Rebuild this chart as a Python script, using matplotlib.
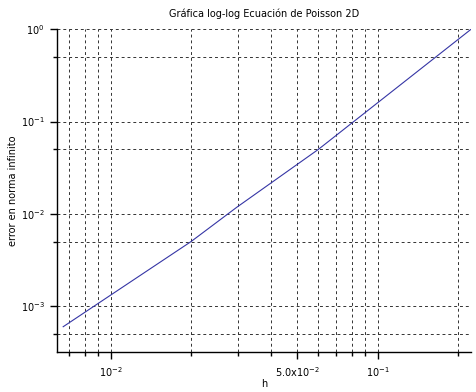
import matplotlib
matplotlib.use("Agg")
import matplotlib.pyplot as plt
from matplotlib.ticker import FixedLocator, FixedFormatter, NullFormatter

# mesh size vs. max-norm error
h = [0.00664, 0.02, 0.0297, 0.06, 0.1, 0.2236]
err = [5.97e-4, 5.0e-3, 1.18e-2, 5.0e-2, 0.16, 1.0]

xmajor = [1e-2, 5e-2, 1e-1]
xmajor_labels = [r"$10^{-2}$", r"5.0x$10^{-2}$", r"$10^{-1}$"]
xminor = [7e-3, 8e-3, 9e-3, 2e-2, 3e-2, 4e-2, 6e-2, 7e-2, 8e-2, 9e-2, 2e-1]
ymajor = [1e-3, 1e-2, 1e-1, 1e0]
ymajor_labels = [r"$10^{-3}$", r"$10^{-2}$", r"$10^{-1}$", r"$10^{0}$"]
yminor = [5e-4, 5e-3, 5e-2, 5e-1]

fig = plt.figure(figsize=(4.77, 3.92), dpi=100)
ax = fig.add_axes([57 / 477, 1 - 351.7 / 392, (471 - 57) / 477, (351.7 - 29.3) / 392])

ax.plot(h, err, color="#3535a5", linewidth=0.8)
ax.set_xscale("log")
ax.set_yscale("log")
ax.set_xlim(6.295e-3, 0.2236)
ax.set_ylim(3.2e-4, 1.0)

ax.xaxis.set_major_locator(FixedLocator(xmajor))
ax.xaxis.set_major_formatter(FixedFormatter(xmajor_labels))
ax.xaxis.set_minor_locator(FixedLocator(xminor))
ax.xaxis.set_minor_formatter(NullFormatter())
ax.yaxis.set_major_locator(FixedLocator(ymajor))
ax.yaxis.set_major_formatter(FixedFormatter(ymajor_labels))
ax.yaxis.set_minor_locator(FixedLocator(yminor))
ax.yaxis.set_minor_formatter(NullFormatter())

ax.grid(True, which="both", color="#333333", linestyle=(0, (3, 3)), linewidth=0.7)
ax.set_axisbelow(True)

for s in ("top", "right"):
    ax.spines[s].set_visible(False)
for s in ("left", "bottom"):
    ax.spines[s].set_linewidth(1.0)

ax.tick_params(which="major", direction="out", length=5, width=1, labelsize=7, pad=4)
ax.tick_params(which="minor", direction="out", length=3, width=1)
ax.tick_params(axis="x", which="major", pad=5)

ax.set_title("Gráfica log-log Ecuación de Poisson 2D", fontsize=7, pad=9)
ax.set_xlabel("h", fontsize=7)
ax.set_ylabel("error en norma infinito", fontsize=7)
ax.xaxis.set_label_coords(0.5, -0.085)
ax.yaxis.set_label_coords(-0.095, 0.5)

fig.savefig("out.png", dpi=100)
